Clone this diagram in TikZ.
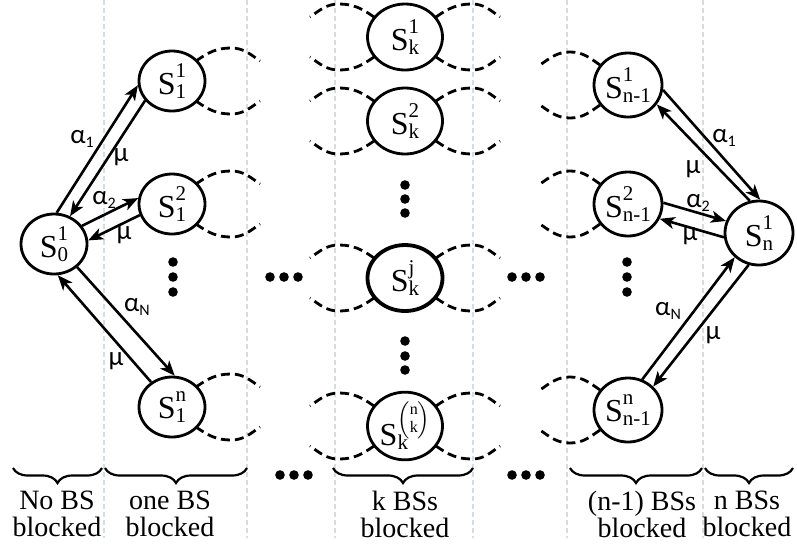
\documentclass[tikz,border=0pt]{standalone}
\usepackage{fontspec}
\usepackage{amsmath}
\setmainfont{Liberation Serif}
\newfontfamily\labfont{Carlito}
\usetikzlibrary{arrows.meta,decorations.pathreplacing,shapes.geometric,calc}

\newcommand\scs{\fontsize{21}{21}\selectfont}
\newcommand\Sst[3][17pt]{S\begingroup\scs\setbox0\hbox{#2}\setbox2\hbox{#3}\ifdim\wd0>\wd2 \wd2=\wd0\fi\raisebox{#1}{\rlap{\box0}}\raisebox{-4pt}{\box2}\endgroup}
\newcommand\lsub[1]{\raisebox{-3.5pt}{\fontsize{16}{16}\selectfont #1}}
\newcommand\binomnk{$\left(\vcenter{\hbox{\fontsize{16}{14}\selectfont\shortstack{\strut n\\\strut k}}}\right)$}
\newcommand\rcurves[4]{%
  \draw[dcurve] ($(#1)+(#2,20)$) to[out=35,in=180] ($(#1)+(#3,33)$) to[out=0,in=145] ($(#1)+(#4,20)$);
  \draw[dcurve] ($(#1)+(#2,-20)$) to[out=-35,in=180] ($(#1)+(#3,-33)$) to[out=0,in=-145] ($(#1)+(#4,-20)$);}
\newcommand\lcurves[4]{%
  \draw[dcurve] ($(#1)+(-#2,20)$) to[out=145,in=0] ($(#1)+(-#3,33)$) to[out=180,in=35] ($(#1)+(-#4,20)$);
  \draw[dcurve] ($(#1)+(-#2,-20)$) to[out=-145,in=0] ($(#1)+(-#3,-33)$) to[out=180,in=-35] ($(#1)+(-#4,-20)$);}

\begin{document}
\begin{tikzpicture}[x=1pt,y=1pt,
  st/.style={ellipse, draw, line width=2.8pt, fill=white, inner sep=0pt,
    minimum width=66pt, minimum height=60pt, font=\fontsize{32}{36}\selectfont},
  stm/.style={st, minimum width=75pt, minimum height=66pt},
  str/.style={st, minimum width=68pt, minimum height=64pt},
  arr/.style={-{Stealth[length=15pt,width=12pt,inset=4pt]}, line width=2.6pt},
  dcurve/.style={line width=2.8pt, dash pattern=on 9pt off 5pt},
  gline/.style={draw={rgb,255:red,214;green,220;blue,228}, line width=1.1pt, dash pattern=on 5pt off 3pt},
  lab/.style={font=\labfont\fontsize{27}{27}\selectfont, inner sep=0pt},
  btxt/.style={anchor=north, align=center, inner sep=0pt, font=\fontsize{28}{27}\selectfont},
  brc/.style={decorate, decoration={brace, mirror, amplitude=15pt}, line width=2.2pt},
  dot/.style={fill=black}]
\useasboundingbox (0,0) rectangle (797,-550);

% positions
\coordinate (p0) at (54,-244);
\coordinate (p11) at (172,-81);
\coordinate (p12) at (172,-204);
\coordinate (p1n) at (172,-407);
\coordinate (pk1) at (405,-37);
\coordinate (pk2) at (405,-121);
\coordinate (pkj) at (405,-278);
\coordinate (pkn) at (405,-426);
\coordinate (pr1) at (628,-85);
\coordinate (pr2) at (628,-204);
\coordinate (prn) at (628,-410);
\coordinate (pn) at (759,-233);

% gray column separators
\foreach \x in {104,247,335,473,567,703}
  \draw[gline] (\x,0) -- (\x,-538);

% dashed curves
\rcurves{p11}{24}{59}{88}
\rcurves{p12}{24}{59}{88}
\rcurves{p1n}{24}{59}{88}
\foreach \p in {pk1,pk2,pkj,pkn}{
  \rcurves{\p}{31}{67}{95}
  \lcurves{\p}{31}{66}{95}
}
\lcurves{pr1}{28}{58}{88}
\lcurves{pr2}{28}{58}{88}
\lcurves{prn}{28}{58}{88}

% states
\node[st] (S0) at (p0) {\Sst{1}{0}};
\node[st] (S11) at (p11) {\Sst{1}{1}};
\node[st] (S12) at (p12) {\Sst{2}{1}};
\node[st] (S1n) at (p1n) {\Sst{n}{1}};
\node[stm] (Sk1) at (pk1) {\Sst{1}{k}};
\node[stm] (Sk2) at (pk2) {\Sst{2}{k}};
\node[stm, line width=3.8pt] (Skj) at (pkj) {\Sst{j}{k}};
\node[stm] (Skn) at (pkn) {\Sst[20pt]{\binomnk}{k}};
\node[str] (Sr1) at (pr1) {\Sst{1}{n-1}};
\node[str] (Sr2) at (pr2) {\Sst{2}{n-1}};
\node[str] (Srn) at (prn) {\Sst{n}{n-1}};
\node[str] (Sn) at (pn) {\Sst{1}{n}};

% transitions left
\draw[arr] (S0.85) -- (S11.187);
\draw[arr] (S11.216) -- (S0.60);
\draw[arr] (S0.33) -- (S12.170);
\draw[arr] (S12.199) -- (S0.6);
\draw[arr] (S0.-45) -- (S1n.85);
\draw[arr] (S1n.130) -- (S0.-83);
% transitions right
\draw[arr] (Sr1.-8) -- (Sn.88);
\draw[arr] (Sn.106) -- (Sr1.-34);
\draw[arr] (Sr2.2) -- (Sn.160);
\draw[arr] (Sn.187) -- (Sr2.-25);
\draw[arr] (Srn.65) -- (Sn.225);
\draw[arr] (Sn.252) -- (Srn.43);

% rate labels
\node[lab] (la1) at (82,-139) {α\lsub{1}};
\node[lab] (lm1) at (121,-157) {μ};
\node[lab] (la2) at (104,-200) {α\lsub{2}};
\node[lab] (lm2) at (124,-235) {μ};
\node[lab] (laN) at (137,-307) {α\lsub{N}};
\node[lab] (lmN) at (116,-361) {μ};
\node[lab] (ra1) at (724,-138) {α\lsub{1}};
\node[lab] (rm1) at (693,-169) {μ};
\node[lab] (ra2) at (698,-203) {α\lsub{2}};
\node[lab] (rm2) at (690,-236) {μ};
\node[lab] (raN) at (668,-311) {α\lsub{N}};
\node[lab] (rmN) at (713,-335) {μ};

% dots
\foreach \y in {262,277,292} {
  \fill[dot] (173,-\y) circle (4.8);
  \fill[dot] (627,-\y) circle (4.8);
}
\foreach \y in {185,199,213,341,356,370}
  \fill[dot] (405,-\y) circle (4.8);
\foreach \x in {270,284,298,512,526,540}
  \fill[dot] (\x,-277) circle (4.8);
\foreach \x in {280,294,308,512,526,540}
  \fill[dot] (\x,-475) circle (4.8);

% braces
\draw[brc] (13,-468) -- (102,-468);
\draw[brc] (105,-468) -- (247,-468);
\draw[brc] (333,-468) -- (473,-468);
\draw[brc] (570,-468) -- (702,-468);
\draw[brc] (705,-468) -- (793,-468);

% bottom texts
\node[btxt] (t0) at (57,-491) {No BS\\blocked};
\node[btxt] (t1) at (170,-491) {one BS\\blocked};
\node[btxt] (tk) at (405,-491) {k BSs\\blocked};
\node[btxt] (tn1) at (642,-491) {(n-1) BSs\\blocked};
\node[btxt] (tn) at (747,-491) {n BSs\\blocked};
\end{tikzpicture}
\end{document}
